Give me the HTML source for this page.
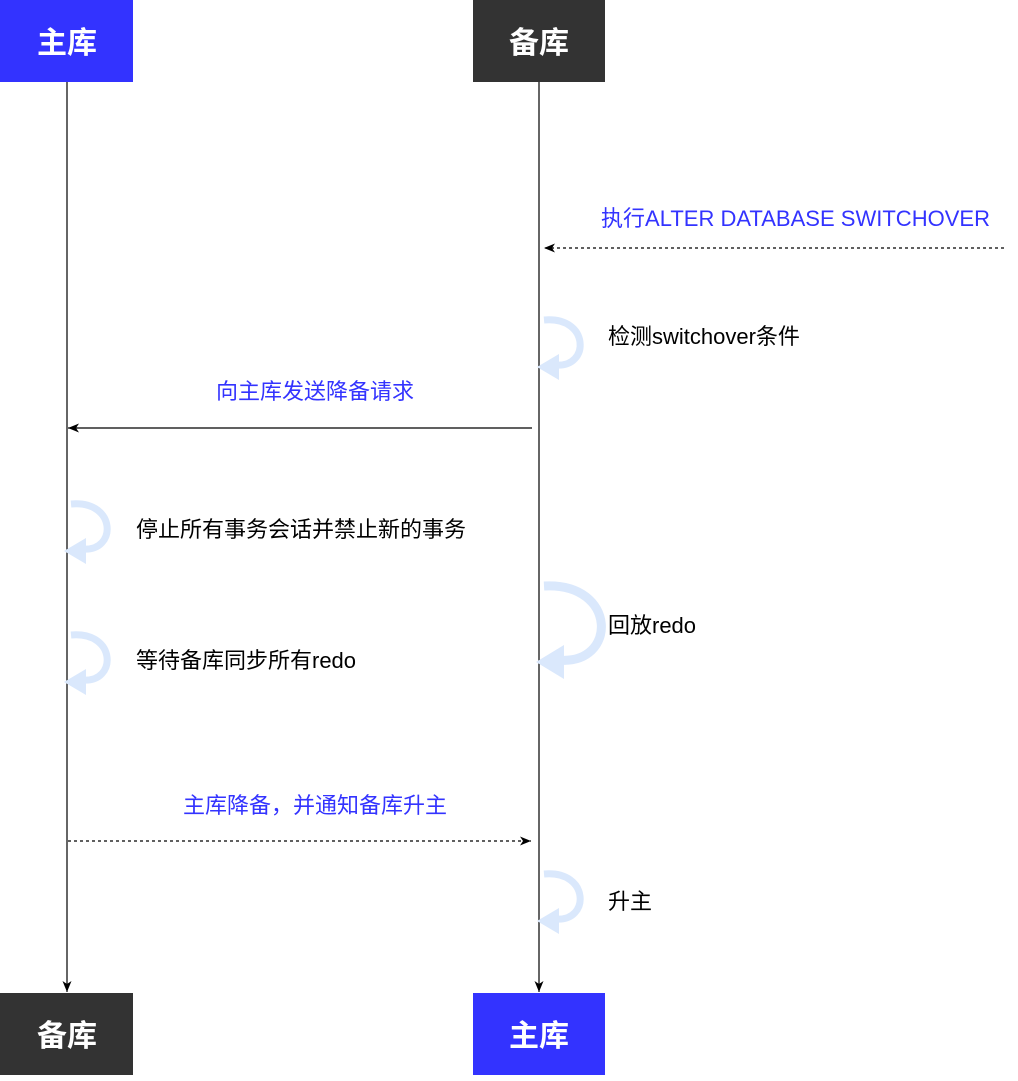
<!DOCTYPE html>
<html><head><meta charset="utf-8"><style>
body{margin:0;background:#fff;}
svg text{font-family:"Liberation Sans","Noto Sans CJK SC",sans-serif;}
</style></head><body>
<svg width="1018" height="1076" viewBox="0 0 1018 1076" xmlns="http://www.w3.org/2000/svg">
<defs>
<marker id="ah" markerWidth="12" markerHeight="12" refX="11" refY="6" orient="auto" markerUnits="userSpaceOnUse">
<path d="M0,1.5 L11,6 L0,10.5 L3,6 Z" fill="#000"/></marker>
</defs>
<rect x="0" y="0" width="133" height="82" fill="#3333ff"/>
<rect x="473" y="0" width="132" height="82" fill="#333333"/>
<rect x="0" y="993" width="133" height="82" fill="#333333"/>
<rect x="473" y="993" width="132" height="82" fill="#3333ff"/>
<g font-size="30" font-weight="bold" fill="#fff" text-anchor="middle">
<text x="67" y="53">主库</text><text x="539" y="53">备库</text>
<text x="67" y="1046">备库</text><text x="539" y="1046">主库</text>
</g>
<line x1="67" y1="82" x2="67" y2="992" stroke="#000" stroke-width="1.2" marker-end="url(#ah)"/>
<line x1="539" y1="82" x2="539" y2="992" stroke="#000" stroke-width="1.2" marker-end="url(#ah)"/>
<line x1="1004" y1="248" x2="544" y2="248" stroke="#000" stroke-width="1.2" stroke-dasharray="3,3" marker-end="url(#ah)"/>
<line x1="532" y1="428" x2="68" y2="428" stroke="#000" stroke-width="1.2" marker-end="url(#ah)"/>
<line x1="68" y1="841" x2="531" y2="841" stroke="#000" stroke-width="1.2" stroke-dasharray="3,3" marker-end="url(#ah)"/>
<g fill="none" stroke="#dae8fc" stroke-width="7">
<path d="M544,320 C590,316 590,368 556,365"/>
<path d="M71,504 C117,500 117,552 83,549"/>
<path d="M71,635 C117,631 117,683 83,680"/>
<path d="M544,874 C590,870 590,922 556,919"/>
<path d="M544,586 C618,582 618,666 558,660" stroke-width="9"/>
</g>
<g fill="#dae8fc">
<polygon points="537,367 559,354 559,380"/>
<polygon points="64,551 86,538 86,564"/>
<polygon points="64,682 86,669 86,695"/>
<polygon points="537,921 559,908 559,934"/>
<polygon points="536,662 564,645 564,679"/>
</g>
<g font-size="22">
<text x="601" y="226" fill="#3333ff" textLength="389" lengthAdjust="spacingAndGlyphs">执行ALTER DATABASE SWITCHOVER</text>
<text x="608" y="344" fill="#000">检测switchover条件</text>
<text x="216" y="399" fill="#3333ff">向主库发送降备请求</text>
<text x="136" y="537" fill="#000">停止所有事务会话并禁止新的事务</text>
<text x="608" y="633" fill="#000">回放redo</text>
<text x="136" y="668" fill="#000">等待备库同步所有redo</text>
<text x="183" y="813" fill="#3333ff">主库降备，并通知备库升主</text>
<text x="608" y="909" fill="#000">升主</text>
</g>
</svg>
</body></html>
